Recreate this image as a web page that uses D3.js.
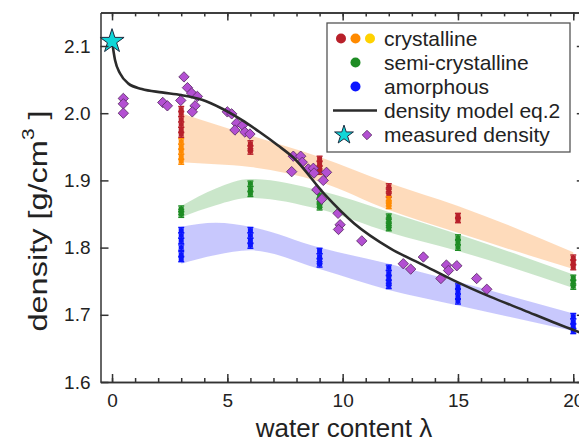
<!DOCTYPE html>
<html><head><meta charset="utf-8">
<script src="https://cdn.jsdelivr.net/npm/d3@7"></script>
<style>body{margin:0;background:#fff;} svg{display:block;font-family:"Liberation Sans",Arial,sans-serif;}</style>
</head><body><svg id="c" width="579" height="443"></svg>
<script>
// ---------- data ----------
const xTicks = [0, 5, 10, 15, 20];
const xMinorTicks = d3.range(0, 21, 1);
const yTicks = [1.6, 1.7, 1.8, 1.9, 2.0, 2.1];
const yTickLabels = ["1.6", "1.7", "1.8", "1.9", "2.0", "2.1"];

const starPoint = [[0, 2.107]];
const measuredDensity = [
  [0.49,2.022],[0.49,2.014],[0.49,2.0],
  [2.2,2.016],[2.4,2.011],
  [2.98,2.019],[3.12,2.054],[3.27,2.038],[3.45,2.03],[3.7,2.025],[3.6,2.011],[3.48,2.002],
  [5.0,2.002],[5.19,1.999],[5.4,1.985],[5.33,1.975],[5.66,1.982],[5.76,1.972],[5.98,1.969],
  [7.86,1.936],[8.18,1.936],[8.25,1.927],[7.79,1.913],[8.51,1.917],[8.73,1.918],[8.76,1.911],
  [9.3,1.912],[9.16,1.9],[8.88,1.886],[9.09,1.872],[9.8,1.851],[9.89,1.834],[9.82,1.827],[10.83,1.81],
  [12.63,1.776],[12.95,1.768],[13.5,1.786],[14.5,1.774],[14.59,1.766],[14.95,1.773],[14.26,1.754],
  [15.81,1.754],[16.25,1.738]
];
const modelCurve = [
  [0,2.107],[0.13,2.079],[0.35,2.059],[0.71,2.044],[1.29,2.036],[2.16,2.031],[3.0,2.027],
  [3.9,2.02],[4.76,2.007],[5.62,1.99],[6.4,1.972],[7.2,1.952],[7.86,1.934],[9.2,1.88],
  [10.5,1.836],[12.06,1.799],[13.5,1.774],[14.95,1.749],[16.39,1.727],[17.84,1.707],
  [19.28,1.687],[20.5,1.671]
];
const bandLambda = [3, 4.5, 6, 9, 12, 15, 20];
const crystallineTop = [2.0, 1.983, 1.967, 1.935, 1.896, 1.862, 1.793];
const crystallineBottom = [1.927, 1.924, 1.92, 1.898, 1.856, 1.822, 1.768];
const semiTop = [1.862, 1.888, 1.902, 1.885, 1.853, 1.82, 1.76];
const semiBottom = [1.845, 1.863, 1.874, 1.857, 1.823, 1.795, 1.74];
const amorphTop = [1.831, 1.837, 1.831, 1.80, 1.776, 1.749, 1.702];
const amorphBottom = [1.776, 1.789, 1.796, 1.768, 1.737, 1.714, 1.676];

const crystRed = [
  [3,2.006],[3,1.999],[3,1.991],[3,1.983],[3,1.975],[3,1.968],
  [6,1.955],[6,1.948],[6,1.943],
  [9,1.932],[9,1.925],[9,1.918],[9,1.913],
  [12,1.891],[12,1.885],[12,1.879],
  [15,1.847],[15,1.841],
  [20,1.785],[20,1.778],[20,1.771]
];
const crystOrange = [
  [3,1.958],[3,1.95],[3,1.943],[3,1.935],[3,1.928],
  [12,1.872],[12,1.866],[12,1.862]
];
const semiGreen = [
  [3,1.858],[3,1.853],[3,1.849],
  [6,1.895],[6,1.887],[6,1.88],
  [9,1.877],[9,1.87],[9,1.864],[9,1.86],
  [12,1.846],[12,1.84],[12,1.834],[12,1.829],
  [15,1.815],[15,1.808],[15,1.80],
  [20,1.755],[20,1.748],[20,1.742]
];
const amorphBlue = [
  [3,1.826],[3,1.818],[3,1.81],[3,1.80],[3,1.79],[3,1.783],
  [6,1.826],[6,1.818],[6,1.81],[6,1.803],
  [9,1.795],[9,1.787],[9,1.78],[9,1.775],
  [12,1.77],[12,1.762],[12,1.755],[12,1.748],[12,1.743],
  [15,1.742],[15,1.735],[15,1.727],[15,1.72],
  [20,1.698],[20,1.69],[20,1.683],[20,1.676]
];
const errHalf = 0.004;
const legendLabels = ["crystalline", "semi-crystalline", "amorphous", "density model eq.2", "measured density"];

// ---------- chart ----------
const svg = d3.select("#c");
const x = d3.scaleLinear().domain([-0.5, 20.5]).range([100.5, 584.8]);
const y = d3.scaleLinear().domain([1.6, 2.15]).range([382, 12.4]);

const colors = {red:"#b8202a", orange:"#ff8a00", yellow:"#ffd200", green:"#1e8c24", blue:"#0a14ff"};

// bands
function band(top, bot, fill) {
  const data = bandLambda.map((l, i) => ({l, t: top[i], b: bot[i]}));
  svg.append("path").datum(data)
    .attr("d", d3.area().x(d => x(d.l)).y0(d => y(d.b)).y1(d => y(d.t)).curve(d3.curveMonotoneX))
    .attr("fill", fill);
}
band(crystallineTop, crystallineBottom, "rgba(253,200,150,0.65)");
band(semiTop, semiBottom, "rgba(150,205,150,0.5)");
band(amorphTop, amorphBottom, "rgba(140,140,250,0.48)");

// error bars
function errs(data, color) {
  const g = svg.append("g").attr("stroke", color).attr("fill", color);
  data.forEach(([l, d]) => {
    const cx = x(l);
    g.append("line").attr("x1", cx).attr("x2", cx).attr("y1", y(d - errHalf)).attr("y2", y(d + errHalf)).attr("stroke-width", 1.6);
    [d - errHalf, d + errHalf].forEach(v => g.append("line").attr("x1", cx - 3).attr("x2", cx + 3).attr("y1", y(v)).attr("y2", y(v)).attr("stroke-width", 1.4));
    g.append("rect").attr("x", cx - 2.5).attr("y", y(d) - 2).attr("width", 5).attr("height", 4).attr("stroke", "none");
  });
}
errs(crystRed, colors.red);
errs(crystOrange, colors.orange);
errs(semiGreen, colors.green);
errs(amorphBlue, colors.blue);

// diamonds
const diamond = d3.symbol().type(d3.symbolSquare).size(54);
svg.append("g").selectAll("path").data(measuredDensity).join("path")
  .attr("d", diamond)
  .attr("transform", d => `translate(${x(d[0])},${y(d[1])}) rotate(45)`)
  .attr("fill", "#b350d2").attr("stroke", "#5a2c66").attr("stroke-width", 0.8);

// model curve
svg.append("path").datum(modelCurve)
  .attr("d", d3.line().x(d => x(d[0])).y(d => y(d[1])).curve(d3.curveMonotoneX))
  .attr("fill", "none").attr("stroke", "#2b2b2b").attr("stroke-width", 2.6);

// star
const star = d3.symbol().type(d3.symbolStar).size(180);
svg.append("g").selectAll("path").data(starPoint).join("path")
  .attr("d", star)
  .attr("transform", d => `translate(${x(d[0])},${y(d[1])})`)
  .attr("fill", "#10d6d8").attr("stroke", "#1b2b40").attr("stroke-width", 1);

// axes
const axisColor = "#333";
const fontSize = "19px";
function styleAxis(g) {
  g.select(".domain").attr("stroke", axisColor).attr("stroke-width", 1.5);
  g.selectAll(".tick line").attr("stroke", axisColor).attr("stroke-width", 1.5);
  g.selectAll("text").attr("fill", "#222").style("font-size", fontSize).style("font-family", "'Liberation Sans',Arial,sans-serif");
}
svg.append("g").attr("transform", "translate(0,382)")
  .call(d3.axisBottom(x).tickValues(xMinorTicks).tickSizeInner(-4).tickSizeOuter(0).tickFormat(""))
  .call(styleAxis);
svg.append("g").attr("transform", "translate(0,382)")
  .call(d3.axisBottom(x).tickValues(xTicks).tickSizeInner(-8).tickSizeOuter(0).tickPadding(12).tickFormat(d3.format("d")))
  .call(styleAxis);
svg.append("g").attr("transform", "translate(0,12.4)")
  .call(d3.axisTop(x).tickValues(xMinorTicks).tickSizeInner(-4).tickSizeOuter(0).tickFormat(""))
  .call(styleAxis);
svg.append("g").attr("transform", "translate(0,12.4)")
  .call(d3.axisTop(x).tickValues(xTicks).tickSizeInner(-8).tickSizeOuter(0).tickFormat(""))
  .call(styleAxis);
svg.append("g").attr("transform", "translate(100.5,0)")
  .call(d3.axisLeft(y).tickValues(yTicks).tickSizeInner(-8).tickSizeOuter(0).tickPadding(10).tickFormat((d, i) => yTickLabels[i]))
  .call(styleAxis);
svg.append("g").attr("transform", "translate(584.8,0)")
  .call(d3.axisRight(y).tickValues(yTicks).tickSizeInner(-8).tickSizeOuter(0).tickFormat(""))
  .call(styleAxis);

// axis titles
svg.append("text").attr("x", 344).attr("y", 437).attr("text-anchor", "middle")
  .style("font-size", "26px").attr("fill", "#222").text("water content λ");
const yl = svg.append("text").attr("transform", "translate(47,221) rotate(-90) scale(1.3,1)").attr("text-anchor", "middle")
  .style("font-size", "25px").attr("fill", "#222");
yl.append("tspan").text("density [g/cm");
yl.append("tspan").attr("dy", -13).style("font-size", "16px").text("3");
yl.append("tspan").attr("dy", 13).text(" ]");

// legend
const lg = svg.append("g");
lg.append("rect").attr("x", 327).attr("y", 23).attr("width", 243).attr("height", 129)
  .attr("fill", "#fff").attr("stroke", "#555").attr("stroke-width", 1.3);
const rowY = [38.5, 62.5, 86.5, 110.5, 135];
[colors.red, colors.orange, colors.yellow].forEach((c, i) =>
  lg.append("circle").attr("cx", 341 + i * 14.5).attr("cy", rowY[0]).attr("r", 5).attr("fill", c));
lg.append("circle").attr("cx", 355.5).attr("cy", rowY[1]).attr("r", 5).attr("fill", colors.green);
lg.append("circle").attr("cx", 355.5).attr("cy", rowY[2]).attr("r", 5).attr("fill", colors.blue);
lg.append("line").attr("x1", 333).attr("x2", 377).attr("y1", rowY[3]).attr("y2", rowY[3]).attr("stroke", "#2b2b2b").attr("stroke-width", 2.6);
lg.append("path").attr("d", d3.symbol().type(d3.symbolStar).size(110)).attr("transform", `translate(344,${rowY[4]})`)
  .attr("fill", "#10d6d8").attr("stroke", "#1b2b40").attr("stroke-width", 1);
lg.append("path").attr("d", d3.symbol().type(d3.symbolSquare).size(45)).attr("transform", `translate(367,${rowY[4]}) rotate(45)`)
  .attr("fill", "#b350d2").attr("stroke", "#5a2c66").attr("stroke-width", 0.8);
legendLabels.forEach((t, i) =>
  lg.append("text").attr("x", 384).attr("y", rowY[i]).attr("dy", "0.35em").style("font-size", "21px").attr("fill", "#222").text(t));
</script>
</body></html>
